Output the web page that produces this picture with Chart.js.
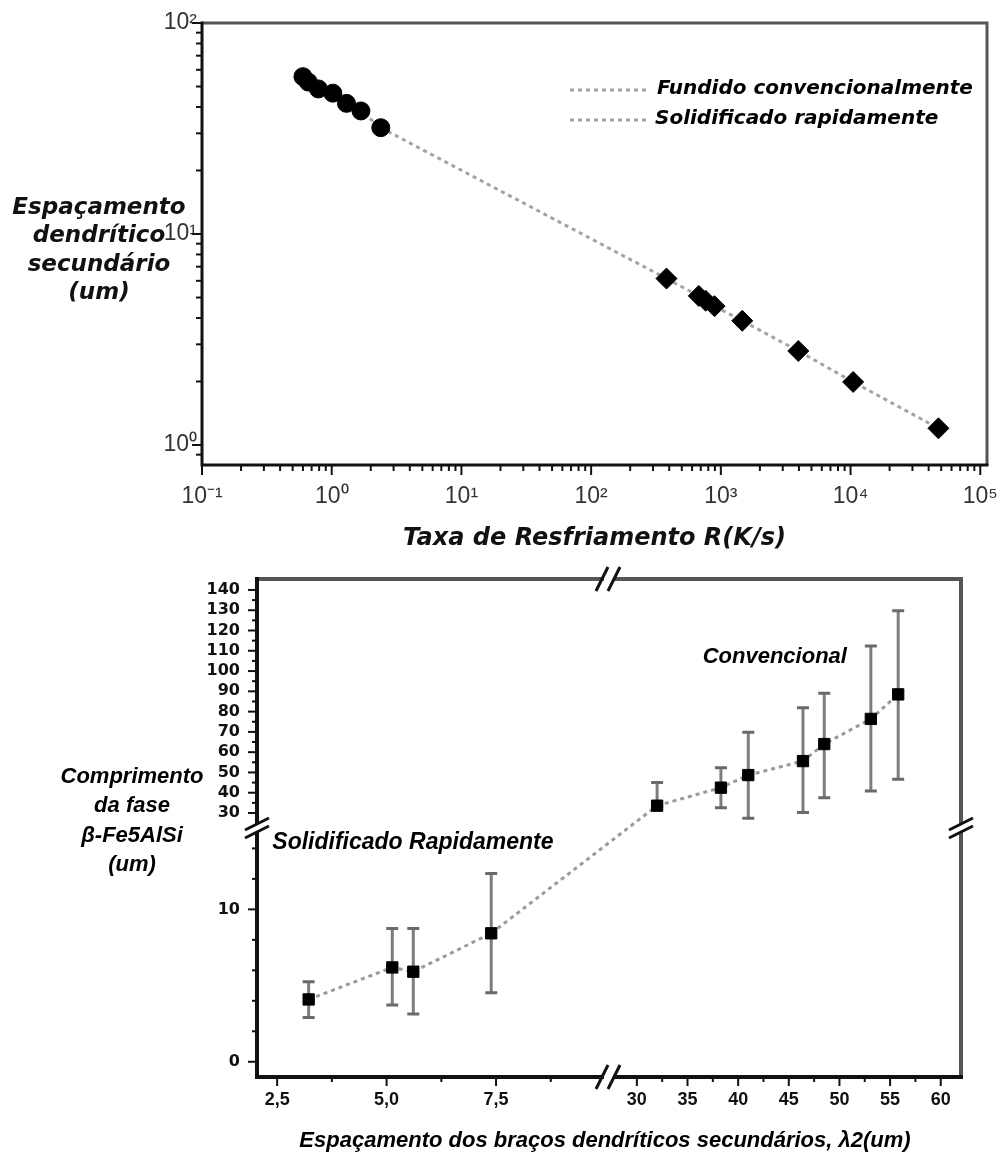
<!DOCTYPE html>
<html>
<head>
<meta charset="utf-8">
<script src="https://cdn.jsdelivr.net/npm/chart.js@4.4.1/dist/chart.umd.min.js"></script>
<style>
  body { margin: 0; background: #fff; width: 1000px; height: 1158px; overflow: hidden; }
  #topBox { position: absolute; left: 0; top: 0; width: 1000px; height: 560px; }
  #botBox { position: absolute; left: 0; top: 560px; width: 1000px; height: 598px; }
</style>
</head>
<body>
<div id="topBox"><canvas id="rateChart"></canvas></div>
<div id="botBox"><canvas id="phaseChart"></canvas></div>
<script>
// --- top chart: spacing vs cooling rate (log-log)
const fundR = [0.60, 0.66, 0.79, 1.02, 1.30, 1.68, 2.39];
const fundLambda = [55.7, 52.5, 48.7, 46.5, 41.6, 38.3, 31.9];
const solidR = [381, 676, 764, 894, 1462, 3955, 10470, 47600];
const solidLambda = [6.15, 5.09, 4.83, 4.55, 3.88, 2.79, 1.99, 1.20];
const rDecades = [0.1, 1, 10, 100, 1000, 10000, 100000];
const rLabels = ['10⁻¹', '10⁰', '10¹', '10²', '10³', '10⁴', '10⁵'];
const lambdaDecades = [1, 10, 100];
const lambdaLabels = ['10⁰', '10¹', '10²'];

// --- bottom chart: phase length vs arm spacing (broken axes)
const rapidLambda = [3.22, 5.13, 5.61, 7.39];
const rapidLen = [4.09, 6.19, 5.91, 8.43];
const rapidLow = [2.91, 3.72, 3.13, 4.53];
const rapidHigh = [5.25, 8.75, 8.75, 12.36];
const convLambda = [32.0, 38.3, 41.0, 46.4, 48.5, 53.1, 55.8];
const convLen = [33.6, 42.5, 48.7, 55.6, 64.0, 76.4, 88.5];
const convLow = [33.6, 32.6, 27.4, 30.3, 37.5, 40.8, 46.6];
const convHigh = [45.1, 52.3, 69.8, 81.9, 89.0, 112.4, 129.8];
const leftXTicks = [2.5, 5.0, 7.5];
const leftXLabels = ['2,5', '5,0', '7,5'];
const rightXTicks = [30, 35, 40, 45, 50, 55, 60];
const lowYTicks = [0, 10];
const highYTicks = [30, 40, 50, 60, 70, 80, 90, 100, 110, 120, 130, 140];

function range(from, to, step) {
  var out = [];
  for (var v = from; v <= to + 1e-9; v += step) out.push(+v.toFixed(4));
  return out;
}

function logTicks(min, max) {
  var out = [];
  for (var d = Math.floor(Math.log10(min)); d <= Math.ceil(Math.log10(max)); d++) {
    for (var k = 1; k <= 9; k++) {
      var v = k * Math.pow(10, d);
      if (v >= min * 0.999 && v <= max * 1.001) out.push(v);
    }
  }
  return out;
}

function decadeLabel(v, decades, labels) {
  for (var i = 0; i < decades.length; i++) {
    if (Math.abs(v / decades[i] - 1) < 1e-6) return labels[i];
  }
  return '';
}

function fixedTicks(values) {
  return function (scale) { scale.ticks = values.map(v => ({ value: v })); };
}

const pts = (xs, ys) => xs.map((x, i) => ({ x: x, y: ys[i] }));

// tick marks drawn outward, longer for labelled ticks
const tickMarks = {
  id: 'tickMarks',
  afterDraw(chart, args, opts) {
    const ctx = chart.ctx;
    ctx.save();
    ctx.strokeStyle = '#111';
    ctx.lineWidth = 2;
    Object.values(chart.scales).forEach(s => {
      s.ticks.forEach(t => {
        const p = s.getPixelForValue(t.value);
        const len = t.label ? opts.major : opts.minor;
        ctx.beginPath();
        if (s.isHorizontal()) { ctx.moveTo(p, s.top); ctx.lineTo(p, s.top + len); }
        else { ctx.moveTo(s.right, p); ctx.lineTo(s.right - len, p); }
        ctx.stroke();
      });
    });
    ctx.restore();
  }
};

function drawFrame(ctx, a, w) {
  ctx.save();
  ctx.lineWidth = w;
  ctx.strokeStyle = '#555';
  ctx.beginPath();
  ctx.moveTo(a.left, a.top); ctx.lineTo(a.right, a.top); ctx.lineTo(a.right, a.bottom);
  ctx.stroke();
  ctx.strokeStyle = '#111';
  ctx.beginPath();
  ctx.moveTo(a.left, a.top - w / 2); ctx.lineTo(a.left, a.bottom); ctx.lineTo(a.right + w / 2, a.bottom);
  ctx.stroke();
  ctx.restore();
}

const rateDecor = {
  id: 'rateDecor',
  afterDraw(chart) {
    const ctx = chart.ctx, a = chart.chartArea;
    drawFrame(ctx, a, 3);
    // legend
    const x0 = a.left + 368, y0 = a.top + 67;
    chart.data.datasets.filter(d => d.label).forEach((ds, i) => {
      const y = y0 + i * 30;
      ctx.save();
      ctx.strokeStyle = ds.borderColor;
      ctx.lineWidth = ds.borderWidth;
      ctx.setLineDash(ds.borderDash);
      ctx.beginPath(); ctx.moveTo(x0, y); ctx.lineTo(x0 + 78, y); ctx.stroke();
      ctx.setLineDash([]);
      ctx.fillStyle = '#000';
      ctx.font = 'italic bold 20px "DejaVu Sans"';
      ctx.textBaseline = 'middle';
      ctx.fillText(ds.label, x0 + 87 - i * 2, y - 1);
      ctx.restore();
    });
    // y axis title
    const lines = ['Espaçamento', 'dendrítico', 'secundário', '(um)'];
    const mid = (a.top + a.bottom) / 2 + 6.5;
    ctx.save();
    ctx.fillStyle = '#111';
    ctx.font = 'italic bold 23px "DejaVu Sans"';
    ctx.textAlign = 'center';
    ctx.textBaseline = 'middle';
    lines.forEach((s, i) => ctx.fillText(s, 99, mid + (i - 1.5) * 28.5));
    ctx.restore();
  }
};

const lineStyle = { borderColor: '#a3a3a3', borderWidth: 3, borderDash: [4, 4] };

new Chart(document.getElementById('rateChart'), {
  type: 'scatter',
  data: {
    datasets: [
      Object.assign({
        label: 'Fundido convencionalmente',
        data: pts(fundR, fundLambda),
        showLine: true, pointStyle: 'circle', pointRadius: 9,
        pointBackgroundColor: '#000', pointBorderColor: '#000', pointBorderWidth: 1
      }, lineStyle),
      Object.assign({
        label: 'Solidificado rapidamente',
        data: pts(solidR, solidLambda),
        showLine: true, pointStyle: 'rectRot', pointRadius: 10.5,
        pointBackgroundColor: '#000', pointBorderColor: '#000', pointBorderWidth: 1
      }, lineStyle),
      Object.assign({
        label: '',
        data: [{ x: fundR[fundR.length - 1], y: fundLambda[fundLambda.length - 1] }, { x: solidR[0], y: solidLambda[0] }],
        showLine: true, pointRadius: 0
      }, lineStyle)
    ]
  },
  options: {
    responsive: true, maintainAspectRatio: false, animation: false, devicePixelRatio: 1,
    layout: { padding: { left: 0, top: 23, right: 13, bottom: 7 } },
    plugins: { legend: { display: false }, tooltip: { enabled: false }, tickMarks: { major: 10, minor: 6 } },
    scales: {
      x: {
        type: 'logarithmic', position: 'bottom', min: 0.1, max: 1.127e5,
        afterBuildTicks: fixedTicks(logTicks(0.1, 1e5)),
        afterFit: s => { s.height = 88; s.paddingLeft = 0; s.paddingRight = 0; },
        grid: { display: false, drawTicks: false }, border: { display: false },
        ticks: {
          autoSkip: false, maxRotation: 0, padding: 18, color: '#333',
          font: { family: 'Liberation Sans', size: 23 },
          callback: v => decadeLabel(v, rDecades, rLabels)
        },
        title: {
          display: true, text: 'Taxa de Resfriamento R(K/s)', color: '#111', padding: 0,
          font: { family: 'DejaVu Sans', size: 24, style: 'italic', weight: 'bold' }
        }
      },
      y: {
        type: 'logarithmic', position: 'left', min: 0.804, max: 100,
        afterBuildTicks: fixedTicks(logTicks(0.804, 100)),
        afterFit: s => { s.width = 202; s.paddingTop = 0; s.paddingBottom = 0; },
        grid: { display: false, drawTicks: false }, border: { display: false },
        ticks: {
          autoSkip: false, padding: 5, color: '#333',
          font: { family: 'Liberation Sans', size: 23 },
          callback: v => decadeLabel(v, lambdaDecades, lambdaLabels)
        }
      }
    }
  },
  plugins: [rateDecor, tickMarks]
});

// ---------- bottom chart
const errorBars = {
  id: 'errorBars',
  beforeDatasetsDraw(chart) {
    const ctx = chart.ctx;
    ctx.save();
    chart.data.datasets.forEach(ds => {
      const xs = chart.scales[ds.xAxisID], ys = chart.scales[ds.yAxisID];
      ds.data.forEach((p, j) => {
        const x = xs.getPixelForValue(p.x);
        const y1 = ys.getPixelForValue(ds.errLow[j]);
        const y2 = ys.getPixelForValue(ds.errHigh[j]);
        ctx.strokeStyle = '#7d7d7d';
        ctx.lineWidth = 3;
        ctx.beginPath(); ctx.moveTo(x, y1); ctx.lineTo(x, y2); ctx.stroke();
        ctx.strokeStyle = '#6a6a6a';
        ctx.beginPath();
        ctx.moveTo(x - 6, y1); ctx.lineTo(x + 6, y1);
        ctx.moveTo(x - 6, y2); ctx.lineTo(x + 6, y2);
        ctx.stroke();
      });
    });
    // dotted link across the axis break
    const a = chart.getDatasetMeta(0).data, b = chart.getDatasetMeta(1).data;
    const p = a[a.length - 1], q = b[0];
    ctx.strokeStyle = '#9a9a9a';
    ctx.lineWidth = lineStyle.borderWidth;
    ctx.setLineDash(lineStyle.borderDash);
    ctx.beginPath(); ctx.moveTo(p.x, p.y); ctx.lineTo(q.x, q.y); ctx.stroke();
    ctx.restore();
  }
};

function breakH(ctx, x, y) {
  ctx.fillStyle = '#fff';
  ctx.fillRect(x - 5, y - 4, 10, 8);
  ctx.beginPath();
  ctx.moveTo(x - 13, y + 12); ctx.lineTo(x - 1, y - 12);
  ctx.moveTo(x - 1, y + 12); ctx.lineTo(x + 11, y - 12);
  ctx.stroke();
}

function breakV(ctx, x, y) {
  ctx.fillStyle = '#fff';
  ctx.fillRect(x - 4, y - 4, 8, 8);
  ctx.beginPath();
  ctx.moveTo(x - 12, y + 2); ctx.lineTo(x + 12, y - 10);
  ctx.moveTo(x - 12, y + 10); ctx.lineTo(x + 12, y - 2);
  ctx.stroke();
}

const phaseDecor = {
  id: 'phaseDecor',
  afterDraw(chart) {
    const ctx = chart.ctx, a = chart.chartArea, s = chart.scales;
    drawFrame(ctx, a, 4);
    ctx.save();
    ctx.strokeStyle = '#111';
    ctx.lineWidth = 3;
    const xb = s.xL.right, yb = s.yLow.top;
    breakH(ctx, xb, a.top);
    breakH(ctx, xb, a.bottom);
    breakV(ctx, a.left, yb);
    breakV(ctx, a.right, yb);
    ctx.restore();

    ctx.save();
    ctx.fillStyle = '#000';
    ctx.font = 'italic bold 23px "Liberation Sans"';
    ctx.textBaseline = 'middle';
    ctx.fillText('Solidificado Rapidamente', s.xL.getPixelForValue(2.39), s.yLow.getPixelForValue(14.35));
    ctx.font = 'italic bold 22px "Liberation Sans"';
    ctx.fillText('Convencional', s.xR.getPixelForValue(36.5), s.yHigh.getPixelForValue(107));
    ctx.textAlign = 'center';
    ['Comprimento', 'da fase', 'β-Fe5AlSi', '(um)'].forEach((t, i) => ctx.fillText(t, 132, a.top + 198 + i * 29.3));
    ctx.fillText('Espaçamento dos braços dendríticos secundários, λ2(um)', (a.left + a.right) / 2 - 4, a.bottom + 64);
    ctx.restore();
  }
};

const xTickFont = { family: 'Liberation Sans', size: 18, weight: 'bold' };
const yTickFont = { family: 'DejaVu Sans', size: 16, weight: 'bold' };
const noGrid = { display: false, drawTicks: false };
const fitY = s => { s.width = 257; s.paddingTop = 0; s.paddingBottom = 0; };
const fitX = s => { s.height = 50; s.paddingLeft = 0; s.paddingRight = 0; };

new Chart(document.getElementById('phaseChart'), {
  type: 'scatter',
  data: {
    datasets: [
      Object.assign({
        label: 'Solidificado Rapidamente', xAxisID: 'xL', yAxisID: 'yLow',
        data: pts(rapidLambda, rapidLen), errLow: rapidLow, errHigh: rapidHigh,
        showLine: true, pointStyle: 'rect', pointRadius: 8,
        pointBackgroundColor: '#000', pointBorderColor: '#000', pointBorderWidth: 1
      }, lineStyle, { borderColor: '#9a9a9a' }),
      Object.assign({
        label: 'Convencional', xAxisID: 'xR', yAxisID: 'yHigh',
        data: pts(convLambda, convLen), errLow: convLow, errHigh: convHigh,
        showLine: true, pointStyle: 'rect', pointRadius: 8,
        pointBackgroundColor: '#000', pointBorderColor: '#000', pointBorderWidth: 1
      }, lineStyle, { borderColor: '#9a9a9a' })
    ]
  },
  options: {
    responsive: true, maintainAspectRatio: false, animation: false, devicePixelRatio: 1,
    layout: { padding: { left: 0, top: 19, right: 39, bottom: 31 } },
    plugins: { legend: { display: false }, tooltip: { enabled: false }, tickMarks: { major: 9, minor: 5 } },
    scales: {
      xL: {
        type: 'linear', position: 'bottom', stack: 'lambda', stackWeight: 1, min: 2.04, max: 10.08,
        afterBuildTicks: fixedTicks(range(2.5, 8.75, 1.25)),
        afterFit: fitX,
        grid: noGrid, border: { display: false },
        ticks: {
          autoSkip: false, maxRotation: 0, padding: 12, color: '#111', font: xTickFont,
          callback: v => { const i = leftXTicks.indexOf(v); return i < 0 ? '' : leftXLabels[i]; }
        }
      },
      xR: {
        type: 'linear', position: 'bottom', stack: 'lambda', stackWeight: 1, min: 27.25, max: 62,
        afterBuildTicks: fixedTicks(range(30, 60, 2.5)),
        afterFit: fitX,
        grid: noGrid, border: { display: false },
        ticks: {
          autoSkip: false, maxRotation: 0, padding: 12, color: '#111', font: xTickFont,
          callback: v => rightXTicks.includes(v) ? String(v) : ''
        }
      },
      yLow: {
        type: 'linear', position: 'left', stack: 'len', stackWeight: 1, min: -1, max: 15.34,
        afterBuildTicks: fixedTicks(range(0, 14, 2)),
        afterFit: fitY,
        grid: noGrid, border: { display: false },
        ticks: {
          autoSkip: false, padding: 17, color: '#111', font: yTickFont,
          callback: v => lowYTicks.includes(v) ? String(v) : ''
        }
      },
      yHigh: {
        type: 'linear', position: 'left', stack: 'len', stackWeight: 1, min: 22.6, max: 145.4,
        afterBuildTicks: fixedTicks(range(30, 140, 5)),
        afterFit: fitY,
        grid: noGrid, border: { display: false },
        ticks: {
          autoSkip: false, padding: 17, color: '#111', font: yTickFont,
          callback: v => highYTicks.includes(v) ? String(v) : ''
        }
      }
    }
  },
  plugins: [errorBars, phaseDecor, tickMarks]
});
</script>
</body>
</html>
